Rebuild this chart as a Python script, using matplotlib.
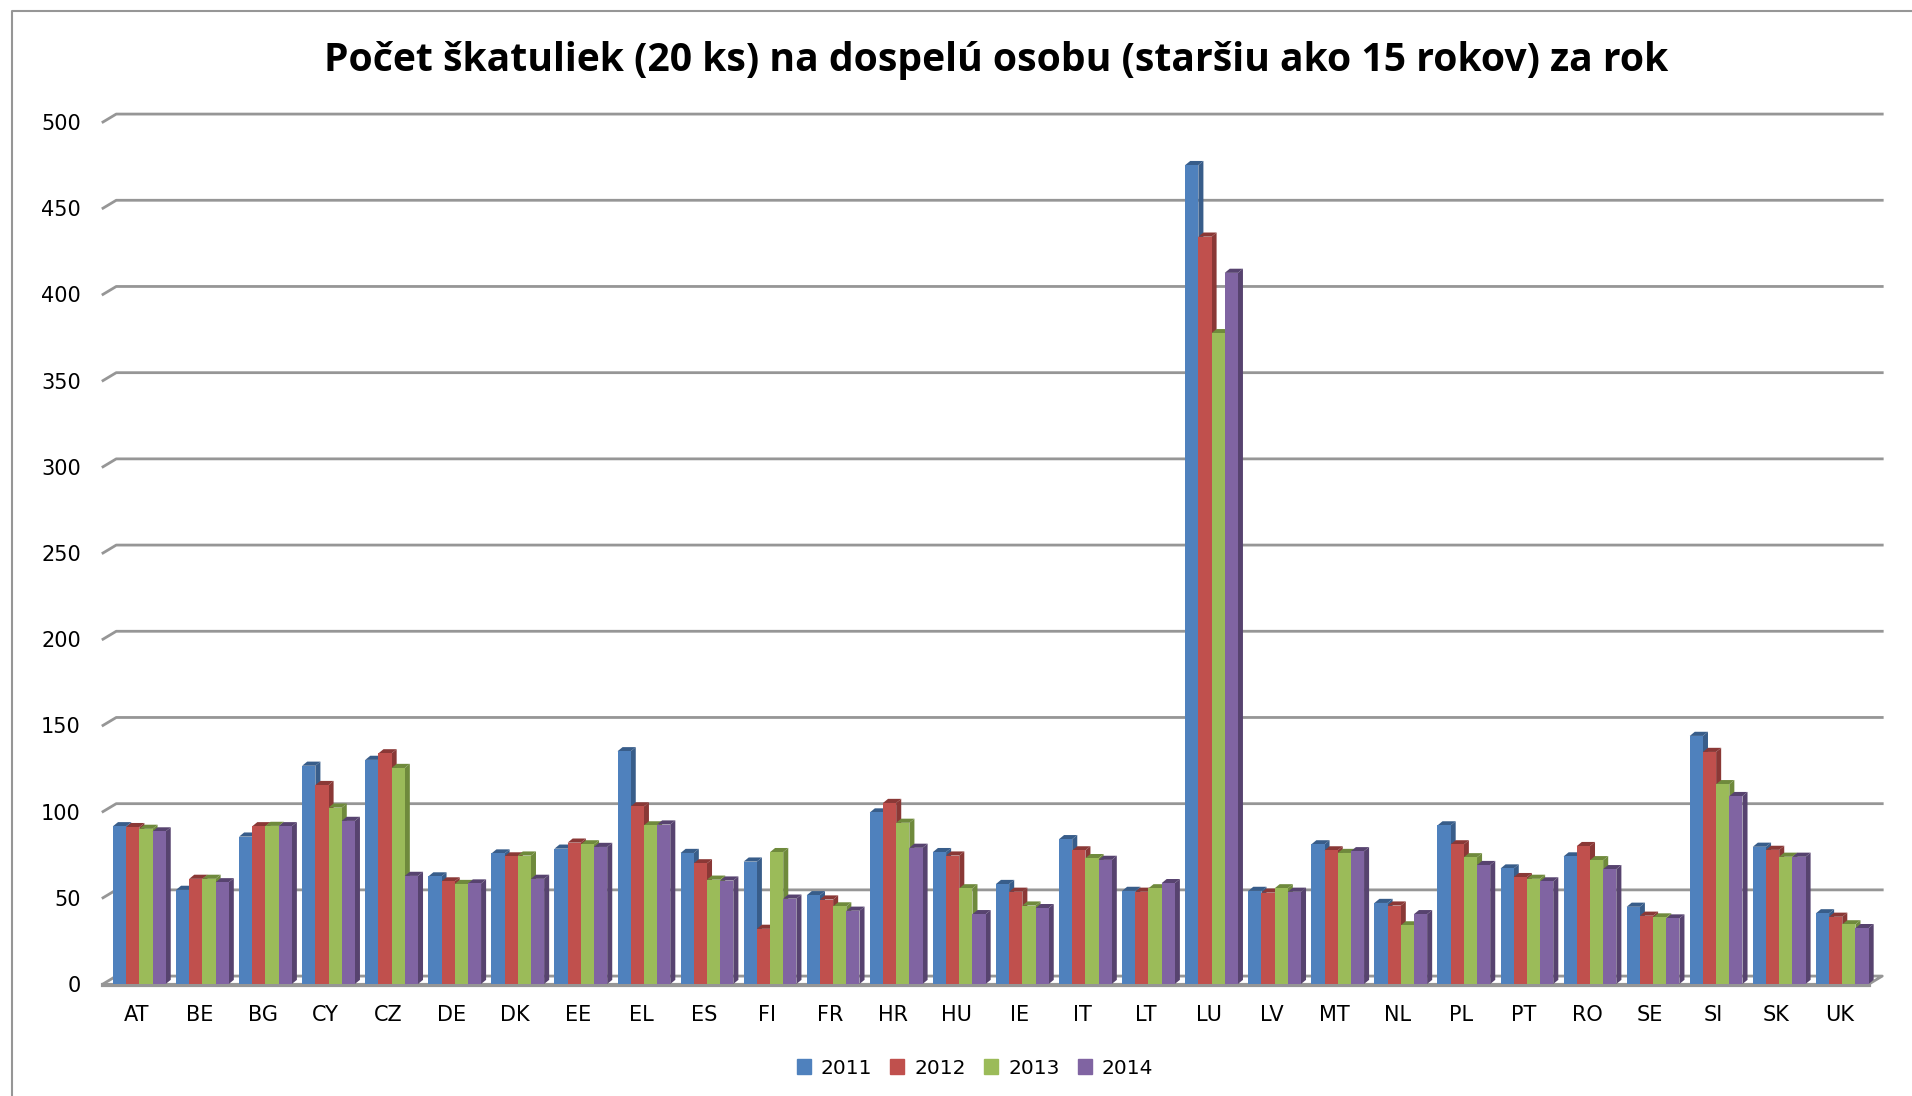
import numpy as np
import matplotlib
matplotlib.use("Agg")
import matplotlib.pyplot as plt
from matplotlib.patches import Patch
from matplotlib.lines import Line2D

### Data
countries = ["AT", "BE", "BG", "CY", "CZ", "DE", "DK", "EE", "EL", "ES", "FI", "FR", "HR", "HU",
             "IE", "IT", "LT", "LU", "LV", "MT", "NL", "PL", "PT", "RO", "SE", "SI", "SK", "UK"]
v2011 = [91.5, 54.6, 85.5, 126.6, 130, 62.4, 75.7, 78.5, 135, 76, 71, 51.5, 99.5, 76.5,
         58, 84, 54, 475, 54, 81, 47, 92, 67, 74, 44.8, 143.9, 79.6, 41]
v2012 = [91, 61, 91.5, 115.4, 133.8, 59.5, 74, 82, 103, 70, 32, 49, 105, 74.5,
         53.5, 77.5, 53.5, 433.5, 53, 77.5, 45.5, 81, 62, 80, 39.6, 134.6, 77.8, 39]
v2013 = [90, 61, 91.7, 102.3, 125.3, 58, 74.5, 81, 92, 60.5, 76.5, 45, 93.5, 55.5,
         45.5, 73, 55.5, 377.5, 55.5, 76, 34, 73.5, 61, 71.8, 38.6, 115.9, 73.8, 34.6]
v2014 = [88.5, 59, 91.5, 94.6, 62.7, 58.3, 61, 79.5, 92.5, 60, 49.5, 42.5, 79, 40.5,
         44, 72, 58.5, 412.5, 53.5, 77, 40.5, 69, 59.5, 66.6, 38, 109, 73.8, 32.4]
years = ["2011", "2012", "2013", "2014"]
y_ticks = [0, 50, 100, 150, 200, 250, 300, 350, 400, 450, 500]
title = "Počet škatuliek (20 ks) na dospelú osobu (staršiu ako 15 rokov) za rok"

series = [v2011, v2012, v2013, v2014]
colors = ["#4F81BD", "#C0504D", "#9BBB59", "#8064A2"]
sides = ["#385D8A", "#8A3836", "#6F8A3C", "#57436F"]
grid_col = "#969696"

W, H = 1912, 1096
fig = plt.figure(figsize=(W / 100, H / 100), dpi=100)
# front plane of the 3D box
x0, x1, y0, y1 = 103, 1869, 984, 122
ax = fig.add_axes([x0 / W, 1 - y0 / H, (x1 - x0) / W, (y0 - y1) / H])
ax.set_xlim(0, len(countries))
ax.set_ylim(0, 500)
for s in ax.spines.values():
    s.set_visible(False)

# depth of the floor and of the bars, in data units
box_dx, box_dy = 0.21, 4.6
bar_dx, bar_dy = 0.08, 2.4
bar_w = 0.209
margin = 0.158
n = len(countries)

### Walls
for t in y_ticks[1:]:
    ax.plot([0, box_dx, n + box_dx], [t, t + box_dy, t + box_dy], color=grid_col, lw=2, zorder=1, clip_on=False)
ax.plot([0, box_dx, n + box_dx, n], [0, box_dy, box_dy, 0], color=grid_col, lw=2, zorder=1, clip_on=False)
ax.plot([0, n], [-0.8, -0.8], color=grid_col, lw=3, zorder=1, clip_on=False)

### Bars
z = 2
for i in range(n):
    for j, vals in enumerate(series):
        left = i + margin + j * bar_w
        right = left + bar_w
        v = vals[i]
        ax.fill([right, right + bar_dx, right + bar_dx, right], [0, bar_dy, v + bar_dy, v],
                color=sides[j], lw=0, zorder=z, clip_on=False)
        ax.fill([left, left + bar_dx, right + bar_dx, right], [v, v + bar_dy, v + bar_dy, v],
                color=sides[j], lw=0, zorder=z, clip_on=False)
        ax.bar(left, v, width=bar_w, align="edge", color=colors[j], lw=0, zorder=z + 1, clip_on=False)
        z += 2

ax.set_xticks(np.arange(n) + 0.53)
ax.set_xticklabels(countries, fontsize=15, family="DejaVu Sans", color="black")
ax.set_yticks(y_ticks)
ax.set_yticklabels([str(t) for t in y_ticks], fontsize=15, family="DejaVu Sans", color="black")
ax.tick_params(axis="x", length=0, pad=15)
ax.tick_params(axis="y", length=0, pad=16)

fig.text(996 / W, 1 - 61 / H, title, ha="center", va="center", fontsize=28.2, fontweight="bold",
         family="Open Sans", color="black")

handles = [Patch(color=c, label=y) for c, y in zip(colors, years)]
fig.legend(handles=handles, loc="center", bbox_to_anchor=(975 / W, 1 - 1068 / H), ncol=4, frameon=False,
           prop={"family": "DejaVu Sans", "size": 14.5}, handlelength=0.7, handleheight=0.7,
           handletextpad=0.5, columnspacing=0.9)

# outer border of the chart, top and left only are in the crop
fig.add_artist(Line2D([12 / W, 12 / W, 1], [0, 1 - 11 / H, 1 - 11 / H], color=grid_col, lw=1.5))

fig.savefig("out.png", dpi=100)
